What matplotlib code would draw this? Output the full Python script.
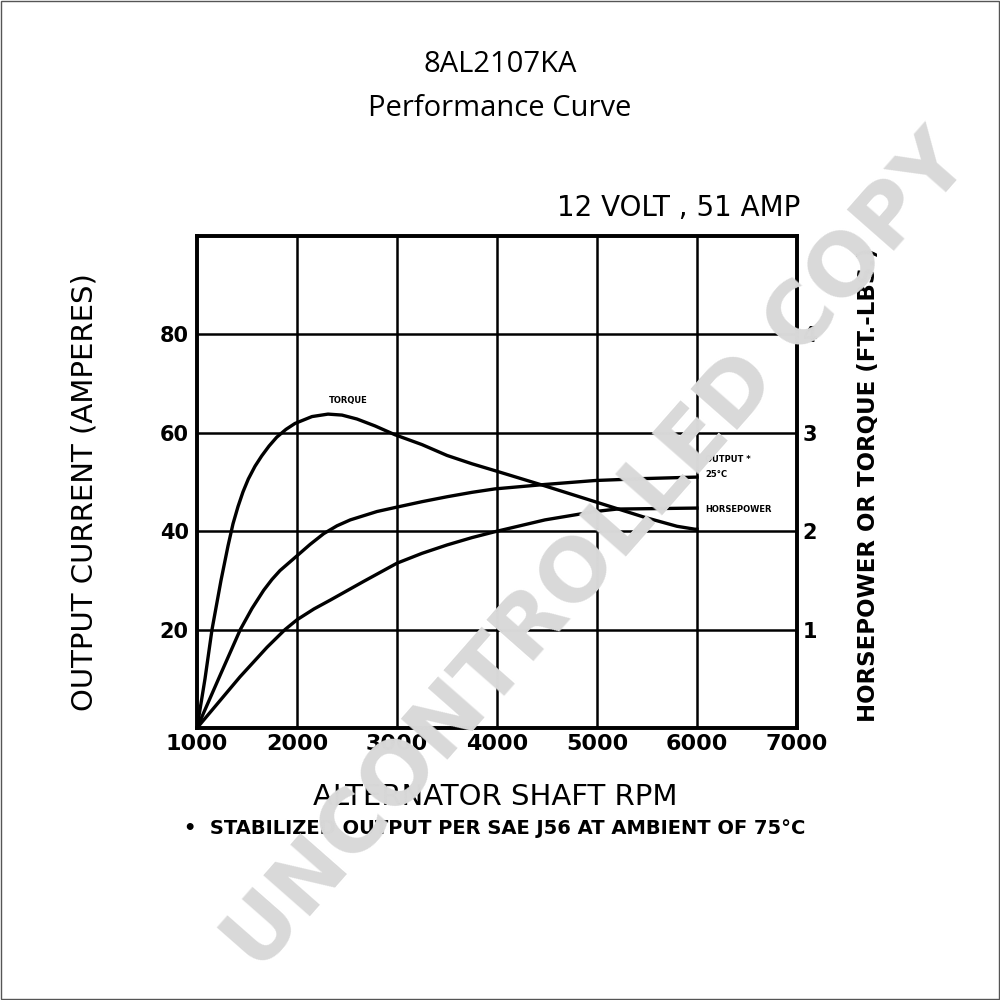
import matplotlib
matplotlib.use("Agg")
from matplotlib import pyplot as plt
from matplotlib.patches import Rectangle

# curve data
torque_rpm = [1000, 1080, 1150, 1240, 1310, 1360, 1410, 1460, 1513, 1580, 1647, 1720,
              1797, 1890, 1980, 2150, 2310, 2450, 2600, 2780, 2980, 3250, 3500, 3750,
              3980, 4480, 4980, 5480, 5800, 5980, 6000]
torque_ftlb = [0, 0.5, 1.0, 1.5, 1.85, 2.075, 2.25, 2.4, 2.53, 2.66, 2.765, 2.865,
               2.955, 3.035, 3.095, 3.165, 3.19, 3.18, 3.14, 3.07, 2.98, 2.88, 2.77, 2.685,
               2.615, 2.46, 2.3, 2.14, 2.05, 2.02, 2.02]

output_rpm = [1000, 1233, 1433, 1550, 1667, 1750, 1830, 2000, 2130, 2267, 2400, 2533,
              2800, 3000, 3250, 3500, 3750, 3980, 4480, 4980, 5480, 6000]
output_amps = [0, 10.8, 20.0, 24.3, 28.0, 30.2, 32.0, 35.0, 37.3, 39.5, 41.1, 42.3,
               44.0, 44.9, 46.0, 47.0, 47.9, 48.6, 49.5, 50.3, 50.7, 51.0]

hp_rpm = [1000, 1430, 1700, 1880, 2000, 2170, 2333, 2667, 3000, 3250, 3500, 3750,
          3980, 4480, 4980, 5200, 6000]
hp_values = [0, 0.52, 0.82, 1.0, 1.1, 1.21, 1.3, 1.49, 1.675, 1.775, 1.86, 1.935,
             1.995, 2.115, 2.2, 2.225, 2.235]

x_ticks = [1000, 2000, 3000, 4000, 5000, 6000, 7000]
amp_ticks = [20, 40, 60, 80]
right_ticks = [1, 2, 3, 4]

fig = plt.figure(figsize=(10, 10), dpi=100)
ax = fig.add_axes([0.197, 0.272, 0.6, 0.492])
ax2 = ax.twinx()

ax.set_xlim(1000, 7000)
ax.set_ylim(0, 100)
ax2.set_ylim(0, 5)

# grid
for x in x_ticks[1:-1]:
    ax.axvline(x, color='black', lw=1.8, zorder=1)
for y in amp_ticks:
    ax.axhline(y, color='black', lw=1.8, zorder=1)

ax.plot(output_rpm, output_amps, color='black', lw=2.4, zorder=3, solid_joinstyle='round')
ax2.plot(torque_rpm, torque_ftlb, color='black', lw=2.4, zorder=3, solid_joinstyle='round')
ax2.plot(hp_rpm, hp_values, color='black', lw=2.4, zorder=3, solid_joinstyle='round')

for a in (ax, ax2):
    for s in a.spines.values():
        s.set_linewidth(2.6)
    a.tick_params(length=0)

ax.set_xticks(x_ticks)
ax.set_xticklabels([str(t) for t in x_ticks], fontsize=16, fontweight='bold')
ax.set_yticks(amp_ticks)
ax.set_yticklabels([str(t) for t in amp_ticks], fontsize=15, fontweight='bold')
ax.tick_params(axis='x', pad=4)
ax.tick_params(axis='y', pad=6)
ax2.set_yticks(right_ticks)
ax2.set_yticklabels([str(t) for t in right_ticks], fontsize=15, fontweight='bold')
ax2.tick_params(axis='y', pad=4)

# curve labels
ax2.text(2320, 3.33, 'TORQUE', fontsize=6, fontweight='bold', ha='left', va='center')
ax.text(6080, 54.5, 'OUTPUT *', fontsize=6, fontweight='bold', ha='left', va='center')
ax.text(6080, 51.5, '25°C', fontsize=6, fontweight='bold', ha='left', va='center')
ax.text(6080, 44.5, 'HORSEPOWER', fontsize=6, fontweight='bold', ha='left', va='center')

# titles and axis texts
fig.text(0.5, 0.936, '8AL2107KA', fontsize=21, family='Open Sans', ha='center', va='center')
fig.text(0.5, 0.892, 'Performance Curve', fontsize=21, family='Open Sans', ha='center', va='center')
fig.text(0.8, 0.792, '12 VOLT , 51 AMP', fontsize=20, ha='right', va='center')
fig.text(0.085, 0.508, 'OUTPUT CURRENT (AMPERES)', fontsize=21, rotation=90, ha='center', va='center')
fig.text(0.868, 0.515, 'HORSEPOWER OR TORQUE (FT.-LBS.)', fontsize=16.5, fontweight='bold',
         rotation=90, ha='center', va='center')
fig.text(0.495, 0.203, 'ALTERNATOR SHAFT RPM', fontsize=21, ha='center', va='center')
fig.text(0.495, 0.172, '•  STABILIZED OUTPUT PER SAE J56 AT AMBIENT OF 75°C', fontsize=14,
         fontweight='bold', ha='center', va='center')

# watermark
fig.text(0.598, 0.447, 'UNCONTROLLED COPY', fontsize=62, fontweight='bold', color='#d9d9d9',
         rotation=48.7, ha='center', va='center', rotation_mode='anchor', zorder=10)

# outer frame
fig.patches.append(Rectangle((0.001, 0.001), 0.998, 0.998, transform=fig.transFigure,
                             fill=False, edgecolor='#555555', lw=1))

plt.savefig('out.png', dpi=100)
